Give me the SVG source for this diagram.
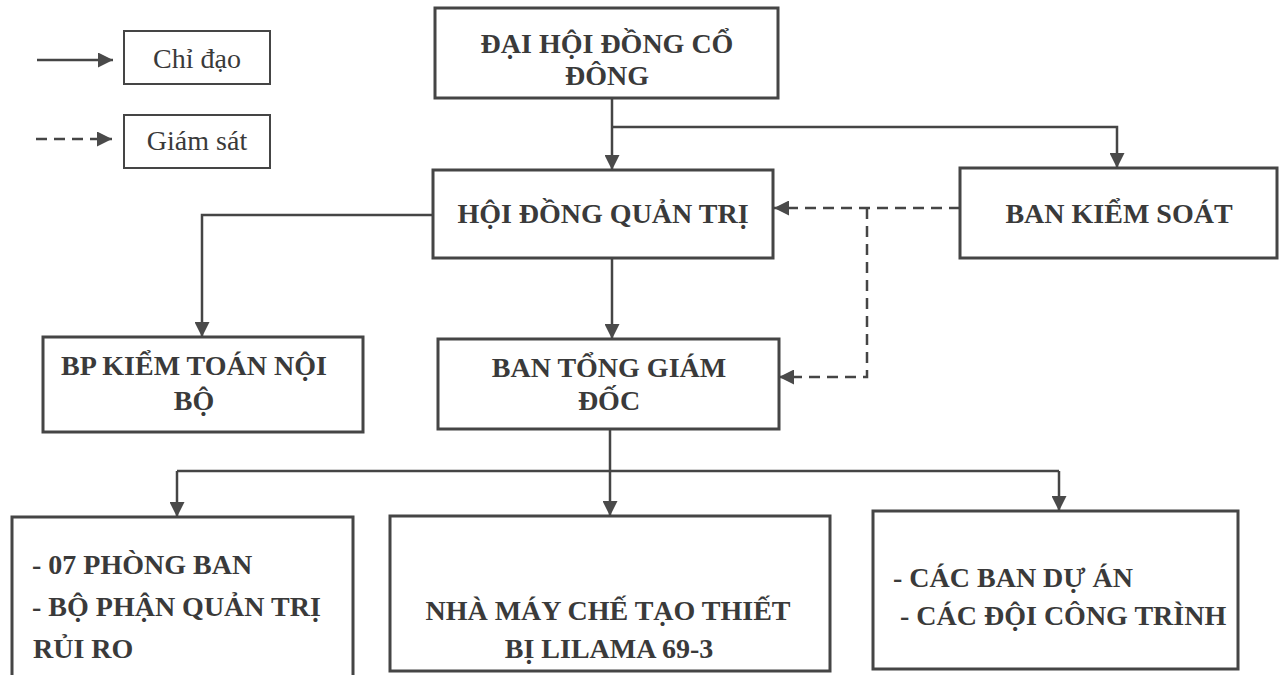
<svg xmlns="http://www.w3.org/2000/svg" width="1288" height="675" viewBox="0 0 1288 675">
<style>
.box{fill:#fff;stroke:#454545;stroke-width:3}
.lg{fill:#fff;stroke:#454545;stroke-width:2}
.t{font-family:"Liberation Serif","Times New Roman",serif;font-weight:bold;font-size:28px;fill:#3a3a3a;text-anchor:middle}
.ts{font-family:"Liberation Serif","Times New Roman",serif;font-weight:bold;font-size:28px;fill:#3a3a3a}
.lt{font-family:"Liberation Serif","Times New Roman",serif;font-size:28px;fill:#3a3a3a;text-anchor:middle}
.c{fill:none;stroke:#454545;stroke-width:2.5}
.d{fill:none;stroke:#454545;stroke-width:2.5;stroke-dasharray:11 7}
</style>
<defs>
<marker id="ah" markerUnits="userSpaceOnUse" markerWidth="15" markerHeight="15" refX="15" refY="7.5" orient="auto" viewBox="0 0 15 15">
<path d="M0,0 L15,7.5 L0,15 z" fill="#4a4a4a"/>
</marker>
</defs>
<rect width="1288" height="675" fill="#fff"/>
<g id="legend">
<rect class="lg" x="124" y="31" width="146" height="53"/>
<text class="lt" x="197" y="68">Chỉ đạo</text>
<rect class="lg" x="124" y="115" width="146" height="53"/>
<text class="lt" x="197" y="150">Giám sát</text>
<path class="c" d="M37,60 H113" marker-end="url(#ah)"/>
<path class="d" d="M36,139 H112" marker-end="url(#ah)"/>
</g>
<g id="connectors">
<path class="c" d="M612,98 V170" marker-end="url(#ah)"/>
<path class="c" d="M612,127 H1117 V168" marker-end="url(#ah)"/>
<path class="c" d="M433,215 H202 V337" marker-end="url(#ah)"/>
<path class="c" d="M612,258 V339" marker-end="url(#ah)"/>
<path class="c" d="M610,429 V471 M177,471 H1059"/>
<path class="c" d="M177,471 V517" marker-end="url(#ah)"/>
<path class="c" d="M610,471 V516" marker-end="url(#ah)"/>
<path class="c" d="M1059,471 V511" marker-end="url(#ah)"/>
<path class="d" d="M960,208 H774" marker-end="url(#ah)"/>
<path class="d" d="M867,208 V377 H779" marker-end="url(#ah)"/>
</g>
<g id="dhdcd">
<rect class="box" x="435" y="8" width="343" height="90"/>
<text class="t" x="607" y="53">ĐẠI HỘI ĐỒNG CỔ</text>
<text class="t" x="607" y="85">ĐÔNG</text>
</g>
<g id="hdqt">
<rect class="box" x="433" y="170" width="340" height="88"/>
<text class="t" x="603" y="223">HỘI ĐỒNG QUẢN TRỊ</text>
</g>
<g id="bks">
<rect class="box" x="960" y="168" width="317" height="90"/>
<text class="t" x="1119" y="223">BAN KIỂM SOÁT</text>
</g>
<g id="bpktnb">
<rect class="box" x="43" y="337" width="320" height="95"/>
<text class="t" x="194" y="375">BP KIỂM TOÁN NỘI</text>
<text class="t" x="194" y="410">BỘ</text>
</g>
<g id="btgd">
<rect class="box" x="438" y="339" width="341" height="90"/>
<text class="t" x="609" y="377">BAN TỔNG GIÁM</text>
<text class="t" x="609" y="410">ĐỐC</text>
</g>
<g id="phongban">
<rect class="box" x="12" y="517" width="341" height="170"/>
<text class="ts" x="32" y="574">- 07 PHÒNG BAN</text>
<text class="ts" x="32" y="616">- BỘ PHẬN QUẢN TRỊ</text>
<text class="ts" x="33" y="658">RỦI RO</text>
</g>
<g id="nhamay">
<rect class="box" x="390" y="516" width="440" height="155"/>
<text class="t" x="608" y="620">NHÀ MÁY CHẾ TẠO THIẾT</text>
<text class="t" x="609" y="658">BỊ LILAMA 69-3</text>
</g>
<g id="banduan">
<rect class="box" x="873" y="511" width="365" height="158"/>
<text class="ts" x="893" y="587">- CÁC BAN DỰ ÁN</text>
<text class="ts" x="900" y="625">- CÁC ĐỘI CÔNG TRÌNH</text>
</g>
</svg>
